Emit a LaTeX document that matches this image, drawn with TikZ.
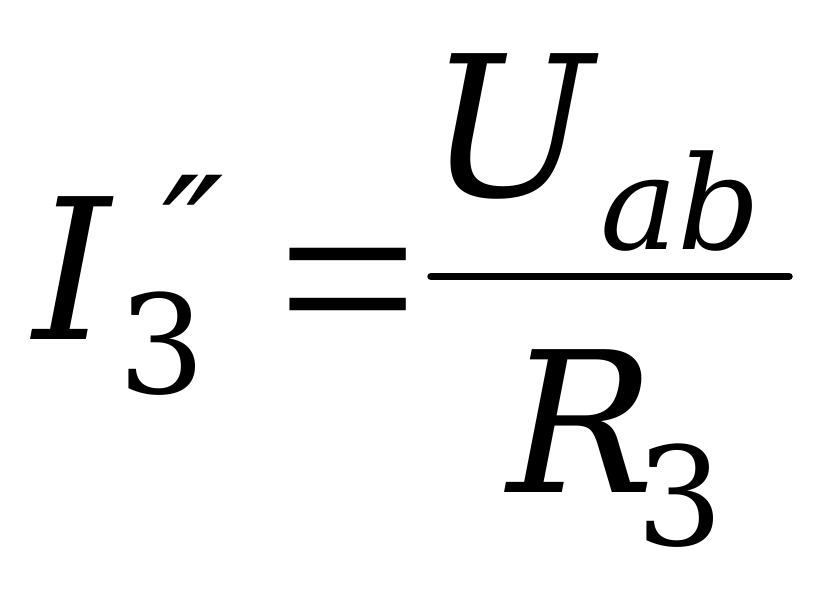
\documentclass[tikz,border=0pt]{standalone}
\usepackage{fontspec}
\setmainfont{DejaVu Serif}
\newfontfamily\eqfont{Liberation Serif}
\usepackage{tikz}

\begin{document}
\begin{tikzpicture}[x=1pt, y=-1pt]
                \useasboundingbox (0,0) rectangle (832,601);
                \node[inner sep = 0, anchor=base west, font=\fontsize{196}{196}\selectfont\itshape](I) at (33,340) {I};
                \node[inner sep = 0, anchor=base west, text height=98pt, font=\fontsize{137}{137}\selectfont](subI) at (118,393) {3};
                \node[inner sep = 0, anchor=base west, text depth=0pt, font=\fontsize{165}{165}\selectfont\itshape](dprime) at (162,296) {″};
                \node[inner sep = 0, anchor=base west, font=\fontsize{250}{250}\selectfont\eqfont](eq) at (277,362) {=};
                \node[inner sep = 0, anchor=base west, font=\fontsize{196}{196}\selectfont\itshape](U) at (428,197) {U};
                \node[inner sep = 0, anchor=base west, font=\fontsize{130}{130}\selectfont\itshape](ab) at (600,250) {ab};
                \node[inner sep = 0, anchor=base west, text depth=0pt, font=\fontsize{196}{196}\selectfont\itshape](R) at (507,492) {R};
                \node[inner sep = 0, anchor=base west, text height=98pt, font=\fontsize{137}{137}\selectfont](subR) at (636,545) {3};

                                \coordinate (barL) at (431,276.5);
                                \coordinate (barR) at (789,276.5);
                                \draw[line width=7.5, line cap=round] (barL) -- (barR);
        \end{tikzpicture}
\end{document}
